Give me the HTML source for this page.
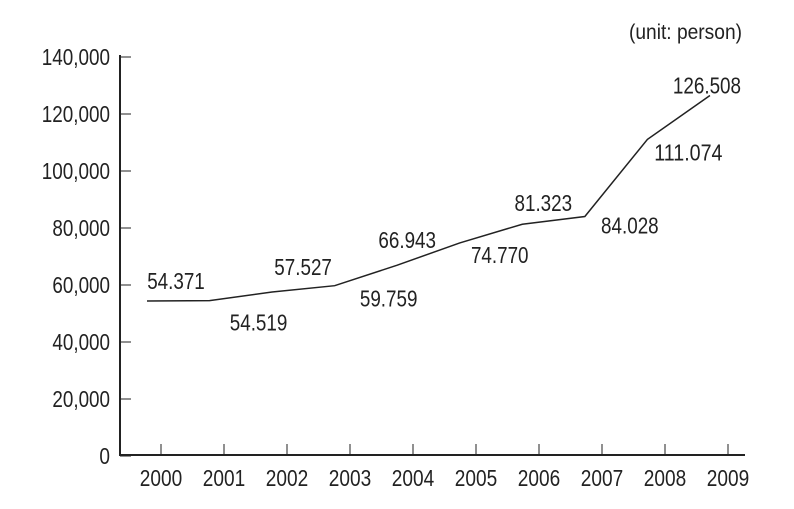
<!DOCTYPE html>
<html><head><meta charset="utf-8"><style>
html,body{margin:0;padding:0;background:#fff;}
svg text{font-family:"Liberation Sans Narrow","Liberation Sans",sans-serif;fill:#222;}
</style></head><body>
<svg id="chart" width="794" height="504" xmlns="http://www.w3.org/2000/svg">
<text x="742" y="39" text-anchor="end" font-size="21" textLength="113" lengthAdjust="spacingAndGlyphs">(unit: person)</text>
<g id="axes"></g><g id="series"></g>
</svg>
<script>
const years = ["2000","2001","2002","2003","2004","2005","2006","2007","2008","2009"];
const visitors = [54371,54519,57527,59759,66943,74770,81323,84028,111074,126508];
const valueLabels = ["54.371","54.519","57.527","59.759","66.943","74.770","81.323","84.028","111.074","126.508"];
const yTicks = [0,20000,40000,60000,80000,100000,120000,140000];
const yTickLabels = ["0","20,000","40,000","60,000","80,000","100,000","120,000","140,000"];
const labelDx = [29,49,31,54,10,40,21,45,41,-3];
const labelDy = [-20,22,-25,13,-25,12,-21,9,13,-10];

const NS="http://www.w3.org/2000/svg";
const y0=456, pxPer=57/20000;
const yScale=v=>y0-v*pxPer;
const xPoint=i=>147+i*62.55;
const xTick=i=>161+i*63;
const axes=document.getElementById('axes'), series=document.getElementById('series');
function mk(tag,attrs,parent){const e=document.createElementNS(NS,tag);for(const k in attrs)e.setAttribute(k,attrs[k]);parent.appendChild(e);return e;}
function tw(s){let w=0;for(const c of s)w+=(c>='0'&&c<='9')?10.6:4.6;return w;}
function txt(parent,x,y,anchor,s){
  const t=mk('text',{x:x,y:y,'text-anchor':anchor,'font-size':23,textLength:tw(s),lengthAdjust:'spacingAndGlyphs'},parent);
  t.textContent=s;return t;
}

let e=mk('line',{x1:120,y1:55,x2:120,y2:456,stroke:'#222','stroke-width':2},axes);


e=mk('line',{x1:119,y1:455,x2:745,y2:455,stroke:'#222','stroke-width':2},axes);



yTicks.forEach((v,i)=>{
  const y=yScale(v);
  const t=mk('line',{x1:120,y1:y,x2:131,y2:y,stroke:'#222','stroke-width':1},axes);
  
  
  const tx=txt(axes,110,y+8,'end',yTickLabels[i]);
  
  
});
years.forEach((yr,i)=>{
  const x=xTick(i);
  const t=mk('line',{x1:x,y1:444,x2:x,y2:455,stroke:'#222','stroke-width':1},axes);
  
  
  const tx=txt(axes,x,486,'middle',yr);
  
  
});
const pts=visitors.map((v,i)=>xPoint(i)+','+yScale(v)).join(' ');
const pl=mk('polyline',{points:pts,fill:'none',stroke:'#222','stroke-width':1.5},series);


visitors.forEach((v,i)=>{
  const tx=txt(series,xPoint(i)+labelDx[i],yScale(v)+labelDy[i]+8,'middle',valueLabels[i]);
  
  
});
</script>
</body></html>
